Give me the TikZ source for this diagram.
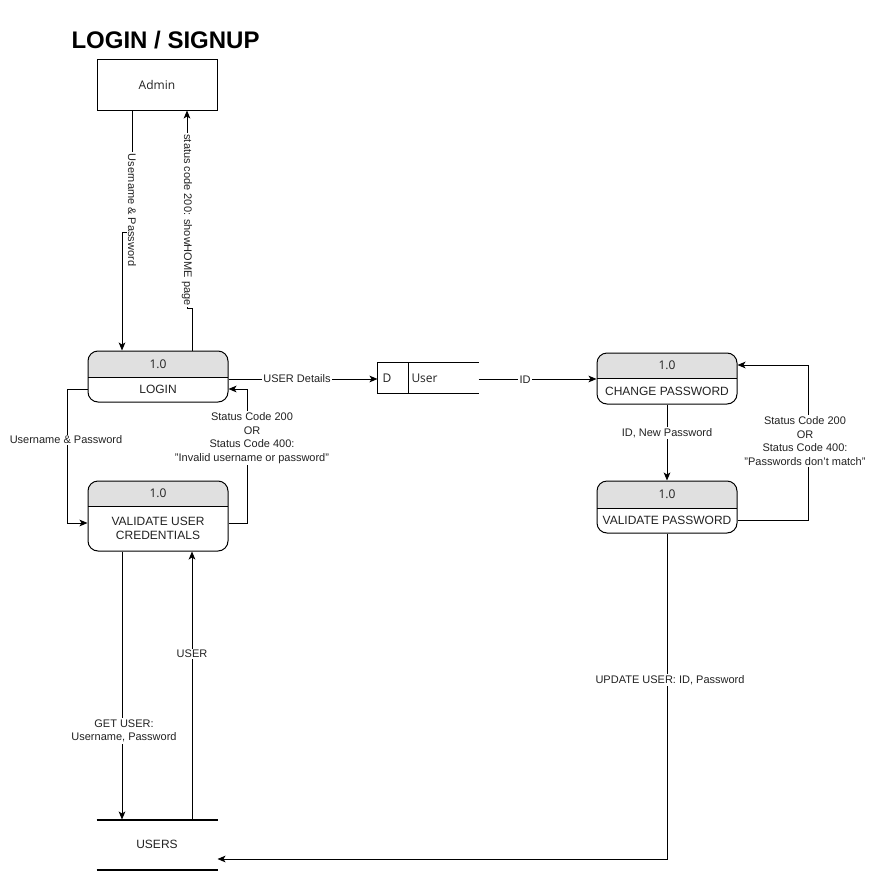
\documentclass[tikz,border=0pt]{standalone}
\usepackage{fontspec}
\setmainfont{Liberation Sans}
\newfontfamily\osans{Open Sans}
\usetikzlibrary{arrows.meta}
\definecolor{hdr}{RGB}{224,224,224}
\definecolor{txt}{RGB}{34,34,34}
\newcommand\procbox[8]{%
  \begin{scope}
    \clip (#2,#3) rectangle (#4,#6);
    \fill[hdr, rounded corners=7.5pt] (#2,#3) rectangle (#4,#5);
  \end{scope}
  \node[proc, minimum width={(#4-#2)*0.75pt}, minimum height={(#5-#3)*0.75pt}] (#1) at ({(#2+#4)/2},{(#3+#5)/2}) {};
  \draw (#2,#6) -- (#4,#6);
  \node[hdrtxt] (#1h) at ({(#2+#4)/2},{(#3+#6)/2}) {#7};
  \node[boxtxt] (#1b) at ({(#2+#4)/2},{(#6+#5)/2}) {#8};
}
\begin{document}
\begin{tikzpicture}[x=0.75pt,y=-0.75pt, line width=0.75pt,
  lbl/.style={font=\fontsize{8.25}{10.2}\selectfont, text=txt, fill=white, inner sep=1pt, align=center},
  arr/.style={-{Stealth[length=6pt,width=5pt,inset=1.5pt]}},
  boxtxt/.style={font=\fontsize{9}{10.5}\selectfont, text=txt, align=center, inner sep=0pt},
  hdrtxt/.style={font=\osans\fontsize{9}{11}\selectfont, text=txt, inner sep=0pt},
  proc/.style={draw, rounded corners=7.5pt, inner sep=0pt}]
\useasboundingbox[fill=white] (0,0) rectangle (879,881);

% title
\node[font=\bfseries\fontsize{18}{20}\selectfont, anchor=west, inner sep=0pt] (title) at (71,40) {LOGIN / SIGNUP};

% admin
\node[draw, minimum width=90pt, minimum height=37.5pt, inner sep=0pt, font=\osans\fontsize{9}{11}\selectfont, text=txt] (admin) at (157,85) {Admin};

% processes
\procbox{login}{88}{351}{228}{402}{377}{1.0}{LOGIN}
\procbox{val}{88}{481}{228}{551}{506}{1.0}{VALIDATE USER\\CREDENTIALS}
\procbox{change}{597}{353}{737}{404}{378}{1.0}{CHANGE PASSWORD}
\procbox{valpw}{597}{481}{737}{533}{508}{1.0}{VALIDATE PASSWORD}

% data store D User
\node[minimum width=75pt, minimum height=22.5pt, inner sep=0pt] (dstore) at (428,378) {};
\draw (dstore.north east) -- (dstore.north west) -- (dstore.south west) -- (dstore.south east);
\draw (408,0 |- dstore.north) -- (408,0 |- dstore.south);
\node[hdrtxt] (dlbl) at (387,378) {D};
\node[hdrtxt, anchor=west] (ulbl) at (411,378) {User};

% USERS store
\node[minimum width=90pt, minimum height=36.75pt, inner sep=0pt, font=\fontsize{9}{11}\selectfont, text=txt] (users) at (157,844.5) {USERS};
\draw[line width=1.5pt] (users.north west) -- (users.north east);
\draw[line width=1.5pt] (users.south west) -- (users.south east);

% connectors
\draw[arr] (132,0 |- admin.south) -- (132,232) -- (122,232) -- (122,0 |- login.north);
\draw[arr] (192,0 |- login.north) -- (192,308) -- (187,308) -- (187,0 |- admin.south);
\draw[arr] (login.east |- 0,379) -- (dstore.west |- 0,379);
\draw[arr] (dstore.east |- 0,379) -- (change.west |- 0,379);
\draw[arr] (login.west |- loginb) -- (67,0 |- loginb) -- (67,523) -- (val.west |- 0,523);
\draw[arr] (val.east |- 0,523) -- (247,523) -- (247,389) -- (login.east |- 0,389);
\draw[arr] (change.south) -- (valpw.north);
\draw[arr] (valpw.east |- valpwb) -- (808,0 |- valpwb) -- (808,365) -- (change.east |- 0,365);
\draw[arr] (122,0 |- val.south) -- (122,0 |- users.north);
\draw[arr] (192,0 |- users.north) -- (192,0 |- val.south);
\draw[arr] (valpw.south) -- (667,859) -- (users.east |- 0,859);

% labels
\node[lbl, rotate=-90] (l1) at (132,210) {Username \& Password};
\node[lbl, rotate=-90] (l2) at (187,220) {status code 200: showHOME page};
\node[lbl] (l3) at (297,379) {USER Details};
\node[lbl] (l4) at (525,380) {ID};
\node[lbl] (l5) at (66,440) {Username \& Password};
\node[lbl] (l6) at (252,438) {Status Code 200\\OR\\Status Code 400:\\"Invalid username or password"};
\node[lbl] (l7) at (667,433) {ID, New Password};
\node[lbl] (l8) at (805,441) {Status Code 200\\OR\\Status Code 400:\\"Passwords don't match"};
\node[lbl] (l9) at (124,731) {GET USER:\\Username, Password};
\node[lbl] (l10) at (192,654) {USER};
\node[lbl] (l11) at (670,680) {UPDATE USER: ID, Password};
\end{tikzpicture}
\end{document}
